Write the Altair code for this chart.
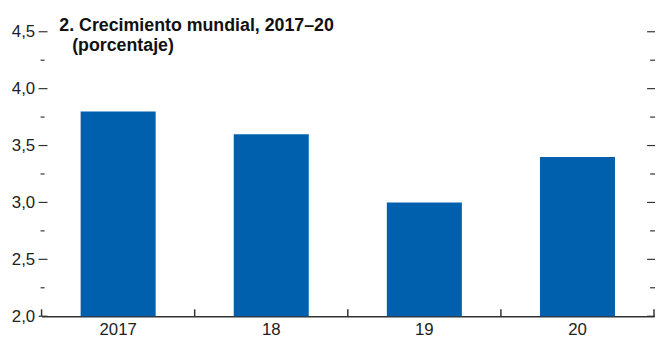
import altair as alt
import pandas as pd

# ---- data ----
years = ["2017", "18", "19", "20"]
growth = [3.8, 3.6, 3.0, 3.4]
major_ticks = [2.0, 2.5, 3.0, 3.5, 4.0, 4.5]
minor_ticks = [2.25, 2.75, 3.25, 3.75, 4.25]
title_line1 = "2. Crecimiento mundial, 2017–20"
title_line2 = "(porcentaje)"

# ---- style ----
W, H = 620, 288
BLUE = "#0060AE"
AX = "#333333"
FONT = "Liberation Sans"
TFONT = "Liberation Sans"

bars_df = pd.DataFrame({"year": years, "value": growth})
major_df = pd.DataFrame({"v": major_ticks})
minor_df = pd.DataFrame({"v": minor_ticks})

yscale = alt.Scale(domain=[2.0, 4.5], nice=False, zero=False)
xscale = alt.Scale(domain=years, paddingInner=0, paddingOuter=0)

x_axis = alt.Axis(labelAngle=0, ticks=False, domain=True, domainColor=AX,
                  domainWidth=1.5, labelFont=FONT, labelFontSize=17,
                  labelColor="#222222", labelPadding=6, grid=False, title=None)
y_axis = alt.Axis(values=major_ticks, ticks=False, domain=False, grid=False,
                  labelExpr="replace(format(datum.value, '.1f'), '.', ',')",
                  labelFont=FONT, labelFontSize=17, labelPadding=7,
                  labelColor="#222222", title=None)

bars = alt.Chart(bars_df).mark_bar(color=BLUE, width=alt.RelativeBandSize(0.49), clip=True).encode(
    x=alt.X("year:N", scale=xscale, sort=years, title=None, axis=x_axis),
    y=alt.Y("value:Q", scale=yscale, title=None, axis=y_axis),
)

seps = alt.Chart(bars_df).mark_rule(color=AX, strokeWidth=1.5).encode(
    x=alt.X("year:N", bandPosition=0, scale=xscale, sort=years, title=None, axis=x_axis),
    y=alt.value(H - 7), y2=alt.value(H),
)
sep_end = alt.Chart(pd.DataFrame({"a": [0]})).mark_rule(color=AX, strokeWidth=1.5).encode(
    x=alt.value(W), y=alt.value(H - 7), y2=alt.value(H),
)

def tick_layer(df, x0, x1):
    return alt.Chart(df).mark_rule(color=AX, strokeWidth=1.2).encode(
        y=alt.Y("v:Q", scale=yscale, title=None, axis=y_axis),
        x=alt.value(x0), x2=alt.value(x1),
    )

left_major = tick_layer(major_df, -3, 6)
left_minor = tick_layer(minor_df, -1, 3)
right_major = tick_layer(major_df, W - 7, W + 1)
right_minor = tick_layer(minor_df, W - 4, W + 1)

t1 = alt.Chart(alt.Data(values=[{"t": title_line1}])).mark_text(
    align="left", baseline="alphabetic", font=TFONT, fontWeight="bold",
    fontSize=18, color="#111111").encode(x=alt.value(18), y=alt.value(-1), text="t:N")
t2 = alt.Chart(alt.Data(values=[{"t": title_line2}])).mark_text(
    align="left", baseline="alphabetic", font=TFONT, fontWeight="bold",
    fontSize=18, color="#111111").encode(x=alt.value(31), y=alt.value(19), text="t:N")

chart = alt.layer(
    bars, seps, sep_end, left_major, left_minor, right_major, right_minor, t1, t2
).properties(
    width=W, height=H,
    padding={"left": 34, "top": 22, "right": 1, "bottom": 20},
    autosize=alt.AutoSizeParams(type="none"),
).configure_view(stroke=None)

chart.save("out.html", embed_options={"renderer": "svg", "actions": False})
